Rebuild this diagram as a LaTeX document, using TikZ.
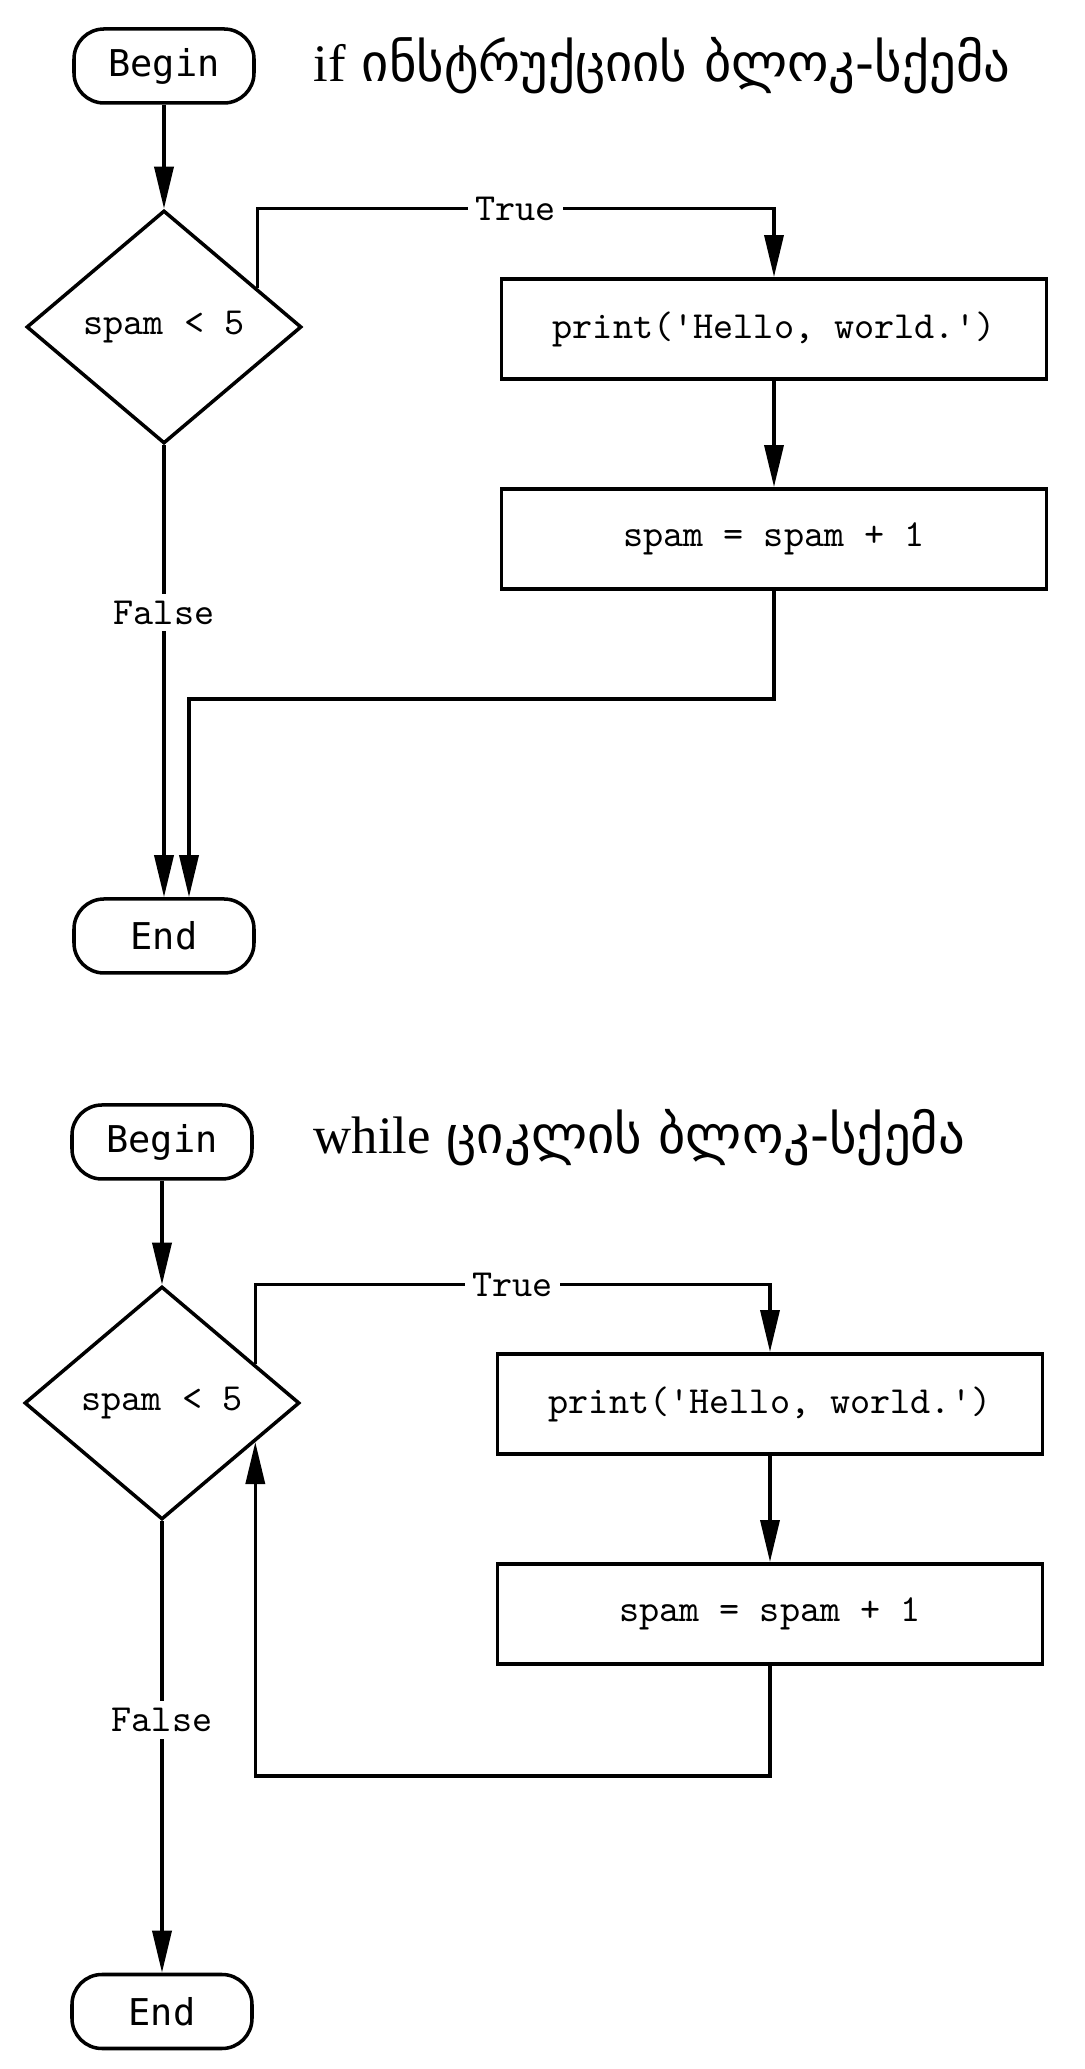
\documentclass[tikz,border=0pt]{standalone}
\usepackage{fontspec}
\newfontfamily\termfont{DejaVu Sans Mono}
\newfontfamily\geofont{DejaVu Sans}
\newfontfamily\headfont{Liberation Serif}
\usetikzlibrary{arrows.meta, shapes.geometric, calc}

\tikzset{
  term/.style={draw, line width=1pt, rounded corners=0.3cm, minimum width=1.8cm,
    minimum height=0.74cm, font=\termfont\fontsize{10.5}{12}\selectfont},
  cond/.style={draw, diamond, line width=1pt, minimum width=2.75cm, minimum height=2.33cm,
    inner sep=0pt, font=\ttfamily\fontsize{10.9}{12}\selectfont},
  stmt/.style={draw, rectangle, line width=1.1pt, minimum width=5.45cm, minimum height=1cm,
    font=\ttfamily\fontsize{10.9}{12}\selectfont},
  flow/.style={line width=1pt, -{Triangle[length=0.42cm, width=0.19cm]}},
  lbl/.style={fill=white, inner sep=2pt, font=\ttfamily\fontsize{10.9}{12}\selectfont},
  heading/.style={anchor=west, inner sep=0pt, font=\fontsize{15}{18}\selectfont},
}

\begin{document}
\begin{tikzpicture}
\useasboundingbox (0,0) rectangle (10.85,20.69);

% if statement
\node[term] (if-begin) at (1.64,20.03) {Begin};
\node[heading] (if-title) at (3.13,20.03) {{\headfont if} {\geofont ინსტრუქციის ბლოკ-სქემა}};
\node[cond] (if-cond) at (1.64,17.42) {spam < 5};
\node[stmt] (if-print) at (7.74,17.40) {print('Hello, world.')};
\node[stmt] (if-inc) at (7.74,15.30) {spam = spam + 1};
\node[term] (if-end) at (1.64,11.33) {End};

\coordinate (if-out) at ($(if-cond.north)!0.67!(if-cond.east)$);
\coordinate (if-join) at ($(if-end.north)+(0.25,0)$);

\draw[flow] (if-begin) -- (if-cond);
\draw[flow] (if-out) |- node[lbl, pos=0.75] {True} (if-print.north |- if-cond.north) -- (if-print.north);
\draw[flow] (if-print) -- (if-inc);
\draw[flow] (if-cond.south) -- node[lbl, pos=0.37] {False} (if-end.north);
\draw[flow] (if-inc.south) -- ++(0,-1.08) -| (if-join);

% while loop
\node[term] (w-begin) at (1.62,9.27) {Begin};
\node[heading] (w-title) at (3.13,9.31) {{\headfont while} {\geofont ციკლის ბლოკ-სქემა}};
\node[cond] (w-cond) at (1.62,6.66) {spam < 5};
\node[stmt] (w-print) at (7.70,6.65) {print('Hello, world.')};
\node[stmt] (w-inc) at (7.70,4.55) {spam = spam + 1};
\node[term] (w-end) at (1.62,0.575) {End};

\coordinate (w-out) at ($(w-cond.north)!0.67!(w-cond.east)$);
\coordinate (w-back) at ($(w-cond.south)!0.67!(w-cond.east)$);

\draw[flow] (w-begin) -- (w-cond);
\draw[flow] (w-out) |- node[lbl, pos=0.75] {True} (w-print.north |- w-cond.north) -- (w-print.north);
\draw[flow] (w-print) -- (w-inc);
\draw[flow] (w-inc.south) -- ++(0,-1.10) -| (w-back);
\draw[flow] (w-cond.south) -- node[lbl, pos=0.44] {False} (w-end.north);

\end{tikzpicture}
\end{document}
